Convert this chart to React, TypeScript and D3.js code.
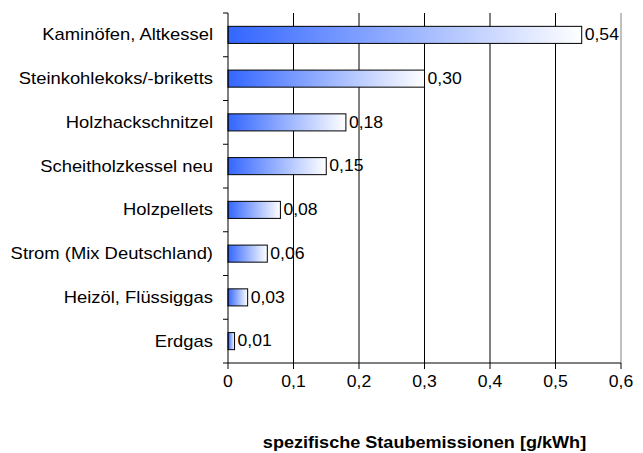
import * as d3 from "d3";

const categories = [
  "Kaminöfen, Altkessel",
  "Steinkohlekoks/-briketts",
  "Holzhackschnitzel",
  "Scheitholzkessel neu",
  "Holzpellets",
  "Strom (Mix Deutschland)",
  "Heizöl, Flüssiggas",
  "Erdgas",
];
const values = [0.54, 0.3, 0.18, 0.15, 0.08, 0.06, 0.03, 0.01];
const xTicks = [0, 0.1, 0.2, 0.3, 0.4, 0.5, 0.6];
const axisTitle = "spezifische Staubemissionen [g/kWh]";

const fmt = (v: number, digits: number) => v.toFixed(digits).replace(".", ",");

export default function App() {
  const width = 643;
  const height = 453;
  const left = 228;
  const right = 621;
  const top = 13;
  const bottom = 363;
  const font = "'Liberation Sans', Arial, sans-serif";
  const stretch = 1.1;

  const x = d3.scaleLinear().domain([0, 0.6]).range([left, right]);
  const y = d3
    .scaleBand()
    .domain(categories)
    .range([top, bottom])
    .paddingInner(0.61)
    .paddingOuter(0.305);
  const step = (bottom - top) / categories.length;
  const bandTicks = d3.range(categories.length + 1).map((i) => top + i * step);

  return (
    <svg
      width={width}
      height={height}
      style={{ position: "absolute", left: 0, top: 0, background: "#fff" }}
    >
      <defs>
        <linearGradient id="barGrad" x1="0" x2="1" y1="0" y2="0">
          <stop offset="0%" stopColor="#3366ff" />
          <stop offset="100%" stopColor="#ffffff" />
        </linearGradient>
      </defs>

      {/* grid lines */}
      {xTicks.slice(1).map((t, i) => (
        <line
          key={"g" + t}
          x1={x(t)}
          x2={x(t)}
          y1={top}
          y2={bottom}
          stroke={i === xTicks.length - 2 ? "#808080" : "#000"}
          strokeWidth={1}
        />
      ))}

      {/* bars */}
      {categories.map((c, i) => (
        <g key={c}>
          <rect
            x={x(0)}
            y={y(c)}
            width={x(values[i]) - x(0)}
            height={y.bandwidth()}
            fill="url(#barGrad)"
            stroke="#000"
            strokeWidth={1}
          />
          <text
            transform={`translate(${x(values[i]) + 3},${(y(c) as number) + y.bandwidth() / 2}) scale(${stretch},1)`}
            dominantBaseline="central"
            fontFamily={font}
            fontSize={16}
            fill="#000"
          >
            {fmt(values[i], 2)}
          </text>
          <text
            transform={`translate(213,${(y(c) as number) + y.bandwidth() / 2}) scale(1.15,1)`}
            dominantBaseline="central"
            textAnchor="end"
            fontFamily={font}
            fontSize={16}
            fill="#000"
          >
            {c}
          </text>
        </g>
      ))}

      {/* y axis */}
      <line x1={left} x2={left} y1={top} y2={bottom} stroke="#000" />
      {bandTicks.map((t) => (
        <line key={"yt" + t} x1={left - 5} x2={left} y1={t} y2={t} stroke="#000" />
      ))}

      {/* x axis */}
      <line x1={left} x2={right} y1={bottom} y2={bottom} stroke="#000" />
      {xTicks.map((t) => (
        <g key={"xt" + t}>
          <line x1={x(t)} x2={x(t)} y1={bottom} y2={bottom + 6} stroke="#000" />
          <text
            transform={`translate(${x(t)},${bottom + 19}) scale(${stretch},1)`}
            dominantBaseline="central"
            textAnchor="middle"
            fontFamily={font}
            fontSize={16}
            fill="#000"
          >
            {t === 0 ? "0" : fmt(t, 1)}
          </text>
        </g>
      ))}

      <text
        transform={`translate(424.5,443) scale(1.13,1)`}
        dominantBaseline="central"
        textAnchor="middle"
        fontFamily={font}
        fontSize={16}
        fontWeight="bold"
        fill="#000"
      >
        {axisTitle}
      </text>
    </svg>
  );
}
